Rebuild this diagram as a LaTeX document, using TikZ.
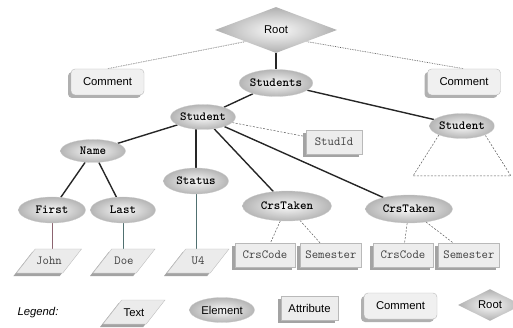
\documentclass[tikz,border=0pt]{standalone}
\usepackage{fontspec}
\setsansfont{Liberation Sans}
\usepackage{tikz}
\usetikzlibrary{shapes,shadows,positioning,backgrounds}

\definecolor{linkred}{RGB}{140,100,112}
\definecolor{linkteal}{RGB}{80,112,112}

\begin{document}
\begin{tikzpicture}[
        x=1pt, y=-1pt,
        every node/.style={inner sep=0pt},
        element/.style={ellipse, shading=radial, inner color=gray!5, outer color=gray!58, draw=gray!40, line width=0.3pt, minimum width=65pt, minimum height=25pt, font=\fontsize{12.4}{14}\ttfamily\bfseries},
        attr/.style={rectangle, fill=gray!14, draw=gray!55, line width=0.4pt, minimum width=60pt, minimum height=24pt, inner xsep=5pt, general shadow={shadow xshift=-3pt, shadow yshift=-3pt, fill=gray!72}, font=\fontsize{12.4}{14}\ttfamily, text=black!75},
        comment/.style={rectangle, rounded corners=4pt, fill=gray!12, draw=gray!55, line width=0.4pt, minimum width=73pt, minimum height=26pt, general shadow={shadow xshift=-3pt, shadow yshift=-3pt, fill=gray!62}, font=\fontsize{11.3}{13}\sffamily},
        textbox/.style={trapezium, trapezium left angle=52, trapezium right angle=128, trapezium stretches body, text height=8pt, text depth=0pt, inner ysep=8pt, inner xsep=1pt, fill=gray!16, draw=gray!50, line width=0.4pt, minimum width=62pt, general shadow={shadow xshift=-3pt, shadow yshift=-3pt, fill=gray!72}, font=\fontsize{12.4}{14}\ttfamily, text=black!75},
        root/.style={diamond, shading=radial, inner color=gray!4, outer color=gray!62, minimum width=122pt, minimum height=46pt, font=\fontsize{11.3}{13}\sffamily},
        treelink/.style={line width=1.4pt, black!85},
        textlink/.style={line width=0.7pt},
        attrlink/.style={dash pattern=on 2pt off 1.5pt, line width=0.5pt, gray!70!black},
        notelink/.style={densely dotted, line width=0.7pt, gray!70!black}
    ]

    \useasboundingbox (0,0) rectangle (513,328);

    % Nodes
    \node (root)[root] at (276,30) {Root};
    \node (commentL)[comment] at (107.5,82) {Comment};
    \node (commentR)[comment] at (464,82) {Comment};
    \node (students)[element, minimum width=64pt, minimum height=27pt] at (276,83) {Students};
    \node (studentL)[element] at (203,117) {Student};
    \node (studentR)[element] at (462,126) {Student};
    \node (studid)[attr, minimum width=56pt] at (334,142) {StudId};
    \node (name)[element, minimum height=23pt] at (93,151) {Name};
    \node (status)[element, minimum height=26pt] at (196,181) {Status};
    \node (first)[element, minimum width=67pt, minimum height=26pt] at (52,210) {First};
    \node (last)[element, minimum height=26pt] at (123,210) {Last};
    \node (crsL)[element, minimum width=89pt, minimum height=30pt] at (287,206) {CrsTaken};
    \node (crsR)[element, minimum width=87pt, minimum height=28pt] at (409,209) {CrsTaken};

    % Text and attributes
    \node (john)[textbox] at (49,261) {John};
    \node (doe)[textbox] at (124,261) {Doe};
    \node (u4)[textbox] at (198,261) {U4};
    \node (codeL)[attr] at (265,255) {CrsCode};
    \node (semL)[attr, right=5pt of codeL] {Semester};
    \node (codeR)[attr] at (403,255) {CrsCode};
    \node (semR)[attr, right=5pt of codeR] {Semester};
    \coordinate (triL) at (413,176);
    \coordinate (triR) at (511,176);

    % Legend
    \node (legend)[font=\fontsize{11.3}{13}\sffamily\itshape] at (38,313) {Legend:};
    \node (keytext)[textbox, font=\fontsize{11.3}{13}\sffamily, text=black] at (134,312) {Text};
    \node (keyelem)[element, font=\fontsize{11.3}{13}\sffamily] at (222,310) {Element};
    \node (keyattr)[attr, minimum width=57pt, font=\fontsize{11.3}{13}\sffamily, text=black] at (309.5,308) {Attribute};
    \node (keycomm)[comment] at (400.5,306) {Comment};
    \node (keyroot)[root, minimum width=64pt, minimum height=26pt] at (490,305) {Root};

    % Connectors
    \begin{scope}[on background layer]
    \draw[notelink] (root.south west) -- (commentL.north);
    \draw[notelink] (root.south east) -- (commentR.north);
    \draw[treelink] (root) -- (students);
    \draw[treelink] (students) -- (studentL);
    \draw[treelink] (students) -- (studentR);
    \draw[attrlink] (studentL) -- (studid);
    \draw[treelink] (studentL) -- (name);
    \draw[treelink] (status |- studentL) -- (status);
    \draw[treelink] (studentL) -- (crsL);
    \draw[treelink] (studentL) -- (crsR);
    \draw[treelink] (name) -- (first);
    \draw[treelink] (name) -- (last);
    \draw[textlink, linkred] (first) -- (first |- john);
    \draw[textlink, linkteal] (last) -- (last |- doe);
    \draw[textlink, linkteal] (status) -- (status |- u4);
    \draw[attrlink] (crsL) -- (codeL);
    \draw[attrlink] (crsL) -- (semL);
    \draw[attrlink] (crsR) -- (codeR);
    \draw[attrlink] (crsR) -- (semR);
    \draw[attrlink] (studentR.south west) -- (triL) -- (triR) -- (studentR.south east);
    \end{scope}

\end{tikzpicture}
\end{document}
